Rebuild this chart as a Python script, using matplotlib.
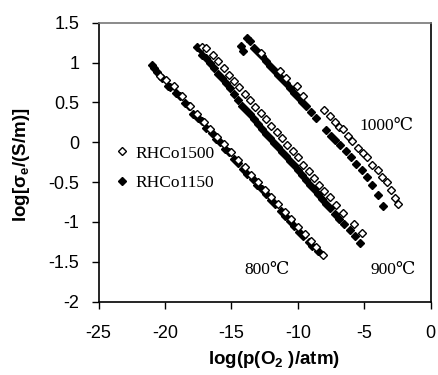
import matplotlib
matplotlib.use("Agg")
import matplotlib.pyplot as plt

plt.rcParams['font.family'] = ['Liberation Sans', 'DejaVu Sans']
plt.rcParams['mathtext.fontset'] = 'custom'
plt.rcParams['mathtext.rm'] = 'Liberation Sans'
plt.rcParams['mathtext.bf'] = 'Liberation Sans:bold'
plt.rcParams['axes.unicode_minus'] = False

# 800 C
t800_open_x = [-20.4, -19.9, -19.3, -18.7, -18.1, -17.6, -17.1, -16.6, -16.1, -15.6, -15.0, -14.5,
               -14.0, -13.5, -13.0, -12.5, -12.0, -11.5, -11.0, -10.5, -10.0, -9.5, -9.0, -8.6, -8.1]
t800_open_y = [0.83, 0.78, 0.70, 0.58, 0.45, 0.36, 0.26, 0.17, 0.07, -0.02, -0.12, -0.22,
               -0.31, -0.41, -0.50, -0.60, -0.69, -0.78, -0.87, -0.96, -1.06, -1.15, -1.24, -1.32, -1.42]
t800_fill_x = [-21.0, -20.8, -20.6, -20.2, -19.8, -19.6, -19.2, -18.9, -18.5, -18.2, -17.9, -17.5, -17.2,
               -16.9, -16.5, -16.2, -15.9, -15.5, -15.2, -14.8, -14.5, -14.1, -13.8, -13.4, -13.1, -12.7,
               -12.4, -12.0, -11.7, -11.3, -11.0, -10.6, -10.3, -9.9, -9.6, -9.2, -8.9, -8.5]
t800_fill_y = [0.97, 0.93, 0.88, 0.81, 0.70, 0.69, 0.62, 0.58, 0.49, 0.45, 0.36, 0.30, 0.27,
               0.18, 0.12, 0.04, 0.00, -0.08, -0.12, -0.21, -0.26, -0.33, -0.40, -0.46, -0.53, -0.59,
               -0.65, -0.73, -0.78, -0.86, -0.92, -0.99, -1.05, -1.12, -1.18, -1.25, -1.30, -1.37]

# 900 C
t900_open_x = [-17.2, -16.9, -16.4, -16.0, -15.6, -15.2, -14.8, -14.4, -14.0, -13.6, -13.2, -12.8, -12.4,
               -12.0, -11.6, -11.2, -10.8, -10.4, -10.0, -9.6, -9.2, -8.8, -8.4, -8.0, -7.6, -7.1,
               -6.6, -5.8, -5.2]
t900_open_y = [1.19, 1.18, 1.10, 1.02, 0.93, 0.85, 0.77, 0.69, 0.60, 0.53, 0.44, 0.37, 0.29,
               0.21, 0.13, 0.05, -0.03, -0.11, -0.19, -0.28, -0.36, -0.45, -0.53, -0.61, -0.69, -0.79,
               -0.89, -1.02, -1.14]
t900_fill_x = [-17.6, -17.4, -17.2, -16.9, -16.6, -16.3, -16.0, -15.7, -15.4, -15.1, -14.8, -14.5, -14.2,
               -13.9, -13.6, -13.3, -13.0, -12.7, -12.4, -12.1, -11.8, -11.5, -11.2, -10.9, -10.6, -10.3,
               -10.0, -9.7, -9.4, -9.1, -8.8, -8.5, -8.2, -7.9, -7.6, -7.2, -6.9, -6.5, -6.1, -5.7, -5.3]
t900_fill_y = [1.20, 1.17, 1.10, 1.06, 0.99, 0.93, 0.86, 0.80, 0.74, 0.68, 0.60, 0.53, 0.46,
               0.41, 0.35, 0.29, 0.23, 0.17, 0.10, 0.05, -0.01, -0.06, -0.12, -0.17, -0.23, -0.29,
               -0.35, -0.41, -0.47, -0.53, -0.59, -0.65, -0.71, -0.77, -0.83, -0.90, -0.96, -1.03, -1.10, -1.17, -1.26]

# 1000 C
t1000_open_x = [-12.8, -11.35, -10.9, -10.1, -9.6, -8.0, -7.6, -7.2, -6.9, -6.6, -6.2, -5.9, -5.5,
                -5.1, -4.8, -4.4, -4.0, -3.7, -3.3, -3.0, -2.7, -2.44]
t1000_open_y = [1.12, 0.89, 0.80, 0.70, 0.58, 0.41, 0.33, 0.25, 0.19, 0.17, 0.08, 0.01, -0.07,
                -0.13, -0.19, -0.28, -0.35, -0.43, -0.50, -0.60, -0.70, -0.77]
t1000_fill_x = [-13.8, -13.6, -14.3, -14.1, -13.3, -13.0, -12.7, -12.4, -12.1, -11.8, -11.5, -11.2, -10.9,
                -10.6, -10.3, -10.0, -9.7, -9.4, -9.0, -8.6, -7.9, -7.5, -7.2, -6.8, -6.4, -6.0, -5.6,
                -5.2, -4.8, -4.4, -4.0, -3.6]
t1000_fill_y = [1.31, 1.27, 1.21, 1.15, 1.18, 1.13, 1.08, 1.02, 0.96, 0.91, 0.85, 0.79, 0.74,
                0.68, 0.62, 0.57, 0.51, 0.45, 0.38, 0.30, 0.15, 0.08, 0.03, -0.04, -0.11, -0.18, -0.27,
                -0.35, -0.44, -0.54, -0.66, -0.80]

open_style = dict(marker="D", linestyle="none", markersize=4.2, markerfacecolor="white",
                  markeredgecolor="black", markeredgewidth=1.0)
fill_style = dict(marker="D", linestyle="none", markersize=4.2, markerfacecolor="black",
                  markeredgecolor="black", markeredgewidth=1.0)

fig = plt.figure(figsize=(4.38, 3.75), dpi=100)
ax = fig.add_axes([0.2253, 0.1955, 0.758, 0.744])

ax.plot(t800_fill_x, t800_fill_y, **fill_style)
ax.plot(t900_fill_x, t900_fill_y, **fill_style)
ax.plot(t1000_fill_x, t1000_fill_y, **fill_style)
ax.plot(t800_open_x, t800_open_y, label="RHCo1500", **open_style)
ax.plot(t900_open_x, t900_open_y, **open_style)
ax.plot(t1000_open_x, t1000_open_y, **open_style)
ax.plot([], [], label="RHCo1150", **fill_style)

ax.set_xlim(-25, 0)
ax.set_ylim(-2, 1.5)
ax.set_xticks([-25, -20, -15, -10, -5, 0])
ax.set_yticks([-2, -1.5, -1, -0.5, 0, 0.5, 1, 1.5])
ax.set_yticklabels(["-2", "-1.5", "-1", "-0.5", "0", "0.5", "1", "1.5"])
ax.tick_params(direction="out", length=5, width=1, labelsize=13)
ax.tick_params(axis="x", pad=12)
ax.tick_params(axis="y", pad=9)

for side in ["left", "bottom", "right"]:
    ax.spines[side].set_linewidth(1.2)
    ax.spines[side].set_color("black")
ax.spines["top"].set_color("#777777")
ax.spines["top"].set_linewidth(1.2)

ax.set_xlabel(r"log(p(O$_\mathbf{2}$ )/atm)", fontsize=13.5, fontweight="bold")
ax.set_ylabel(r"log[σ$_\mathbf{e}$/(S/m)]", fontsize=13.5, fontweight="bold")
ax.xaxis.set_label_coords(0.528, -0.168)
ax.yaxis.set_label_coords(-0.20, 0.49)

serif = ["Liberation Serif", "DejaVu Serif"]
ax.text(-3.3, 0.2, "1000℃", family=serif, fontsize=12.5, ha="center", va="center")
ax.text(-12.3, -1.6, "800℃", family=serif, fontsize=12.5, ha="center", va="center")
ax.text(-2.8, -1.6, "900℃", family=serif, fontsize=12.5, ha="center", va="center")

leg = ax.legend(loc="upper left", bbox_to_anchor=(0.035, 0.585), frameon=False,
                prop={"family": serif, "size": 12.5}, handlelength=0.6, handletextpad=0.45,
                labelspacing=0.75, borderaxespad=0)

fig.savefig("out.png", dpi=100)
